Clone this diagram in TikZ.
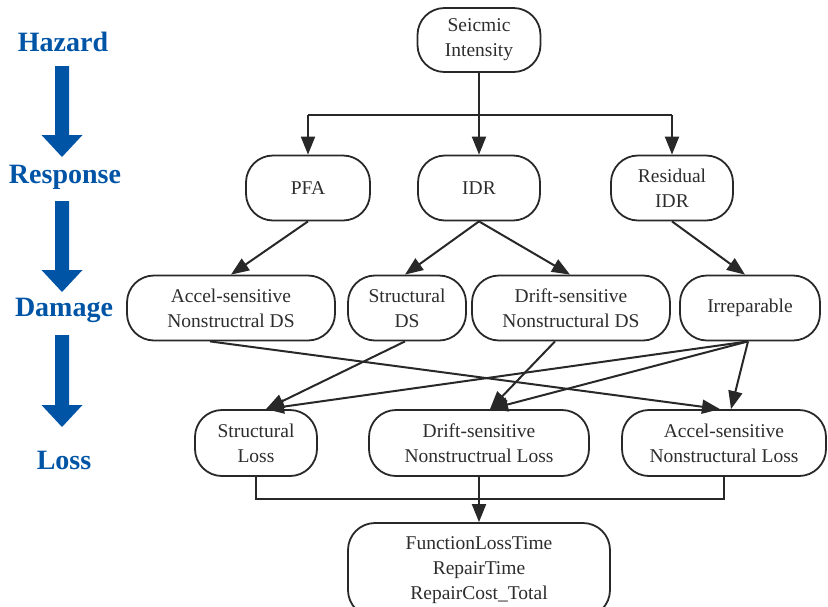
\documentclass[tikz,border=0pt]{standalone}
\usepackage{fontspec}
\setmainfont{Liberation Serif}
\usetikzlibrary{arrows.meta,calc}
\definecolor{stageblue}{RGB}{0,84,166}
\definecolor{linegray}{RGB}{40,40,40}
\definecolor{textgray}{RGB}{45,45,45}
\tikzset{
  box/.style={draw=linegray, line width=1.8pt, rounded corners=27pt, inner sep=0pt,
    align=center, text=textgray, font=\fontsize{19.5}{25}\selectfont},
  arr/.style={draw=linegray, line width=2pt, -{Triangle[length=18pt,width=14pt]}},
  ln/.style={draw=linegray, line width=2pt},
  stage/.style={text=stageblue, font=\fontsize{28}{30}\selectfont\bfseries, inner sep=0pt},
  bigarrow/.style={fill=stageblue}
}
\begin{document}
\begin{tikzpicture}[x=1pt,y=-1pt]
\useasboundingbox (0,0) rectangle (828,606);
% stage labels
\node[stage] (hz) at (63,42) {Hazard};
\node[stage] (rs) at (65,177) {Response};
\node[stage] (dm) at (64,310) {Damage};
\node[stage] (ls) at (64,460) {Loss};
\foreach \t/\b in {66/157, 201/292, 335/427}{
  \fill[bigarrow] (55,\t) -- (69,\t) -- (69,\b-22) -- (82.5,\b-22) -- (62,\b) -- (41.5,\b-22) -- (55,\b-22) -- cycle;
}
% nodes
\node[box, minimum width=123pt, minimum height=64pt] (si) at (479,40) {Seicmic\\Intensity};
\node[box, minimum width=124pt, minimum height=65pt] (pfa) at (308,188) {PFA};
\node[box, minimum width=122pt, minimum height=65pt] (idr) at (479,188) {IDR};
\node[box, minimum width=122pt, minimum height=65pt] (res) at (672,188) {Residual\\IDR};
\node[box, minimum width=208pt, minimum height=65pt] (ads) at (231,308) {Accel-sensitive\\Nonstructral DS};
\node[box, minimum width=118pt, minimum height=65pt] (sds) at (407,308) {Structural\\DS};
\node[box, minimum width=198pt, minimum height=65pt] (dds) at (571,308) {Drift-sensitive\\Nonstructural DS};
\node[box, minimum width=140pt, minimum height=65pt] (irr) at (750,308) {Irreparable};
\node[box, minimum width=122pt, minimum height=66pt] (sl) at (256,443) {Structural\\Loss};
\node[box, minimum width=220pt, minimum height=66pt] (dl) at (479,443) {Drift-sensitive\\Nonstructrual Loss};
\node[box, minimum width=204pt, minimum height=66pt] (al) at (724,443) {Accel-sensitive\\Nonstructural Loss};
\node[box, minimum width=262pt, minimum height=94pt] (out) at (479,570) {FunctionLossTime\\RepairTime\\RepairCost\_Total};
% top bus
\coordinate (b1) at (308,115);
\coordinate (b3) at (672,115);
\draw[ln] (b1) -- (b3);
\draw[arr] (si.south) -- (idr.north);
\draw[arr] (b1) -- (pfa.north);
\draw[arr] (b3) -- (res.north);
% response -> damage
\draw[arr] (pfa.south) -- (ads.north);
\draw[arr] (idr.south) -- ($(sds.north)+(-2,0)$);
\draw[arr] (idr.south) -- ($(dds.north)+(-1,0)$);
\draw[arr] (res.south) -- ($(irr.north)+(-5,0)$);
% damage -> loss
\coordinate (tsl) at ($(sl.north)+(10,0)$);
\coordinate (tdl) at ($(dl.north)+(11,0)$);
\draw[arr] ($(ads.south)+(-21,0)$) -- ($(al.north)+(-4,0)$);
\draw[arr] ($(sds.south)+(-2,0)$) -- (tsl);
\draw[arr] ($(dds.south)+(-16,0)$) -- (tdl);
\draw[arr] ($(irr.south)+(-2,0)$) -- (tsl);
\draw[arr] ($(irr.south)+(-2,0)$) -- (tdl);
\draw[arr] ($(irr.south)+(-2,0)$) -- ($(al.north)+(7,0)$);
% loss -> output
\coordinate (c1) at (256,499);
\coordinate (c3) at (724,499);
\draw[ln] (sl.south) -- (c1) -- (c3) -- (al.south);
\draw[arr] (dl.south) -- (out.north);
\end{tikzpicture}
\end{document}
